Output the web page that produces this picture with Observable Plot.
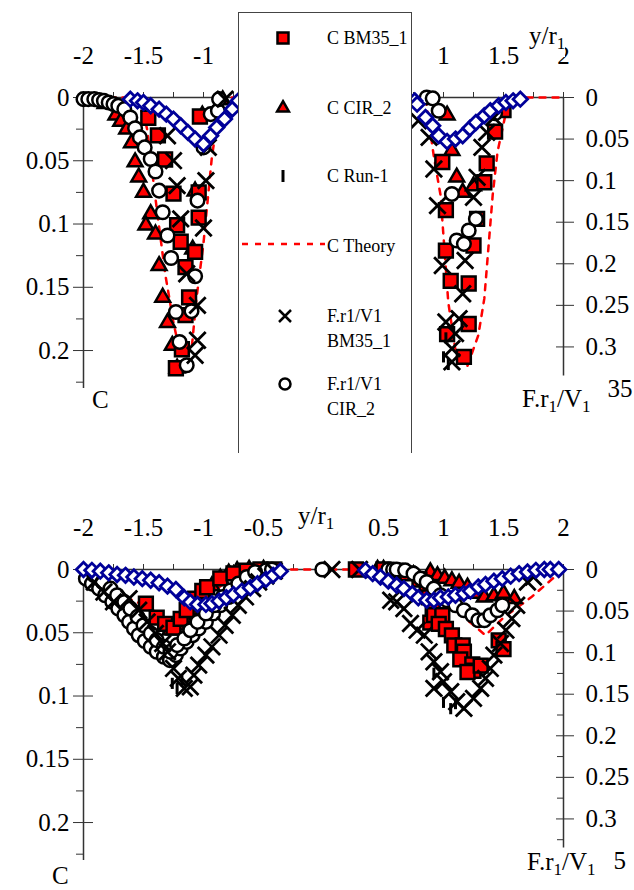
<!DOCTYPE html>
<html><head><meta charset="utf-8">
<script src="https://cdn.jsdelivr.net/npm/d3@7"></script>
<script src="https://cdn.jsdelivr.net/npm/@observablehq/plot@0.6"></script>
<style>
body{margin:0;background:#fff;}
#wrap{position:relative;width:634px;height:890px;font-family:"Liberation Serif","Times New Roman",serif;color:#000;overflow:hidden;}
#wrap svg{display:block;}
#wrap svg, #wrap svg text{font-family:"Liberation Serif","Times New Roman",serif !important;}
.lab{position:absolute;font-size:25px;line-height:25px;background:#fff;white-space:nowrap;}
.lab sub{font-size:17px;line-height:0;vertical-align:-5px;}
#legend{position:absolute;left:238px;top:12px;width:172px;height:440px;border:1.5px solid #444;border-bottom:none;background:#fff;}
#legend .t{position:absolute;left:88px;font-size:18px;line-height:20px;white-space:nowrap;}
#legend svg{position:absolute;overflow:visible;}
</style></head>
<body><div id="wrap"></div>
<script>
// ---------- axis ticks ----------
const xMajorTop = [-2,-1.5,-1,1,1.5,2];            // -0.5, 0, 0.5 lie under the legend box
const xMajorBottom = [-2,-1.5,-1,-0.5,0.5,1,1.5,2]; // 0 is replaced by the y/r1 title
const xMinor = [-1.75,-1.25,-0.75,-0.25,0.25,0.75,1.25,1.75];
const cMajor = [0,0.05,0.1,0.15,0.2];
const cMinor = [0.025,0.075,0.125,0.175,0.225];
const fMajor = [0,0.05,0.1,0.15,0.2,0.25,0.3];
const fMinor = [0.025,0.075,0.125,0.175,0.225,0.275,0.325];
const fLast = 0.35;            // last right-axis label, mostly hidden behind the axis title
const fLastTextTop = "35", fLastTextBottom = "5";
const C_MAX = 0.23, F_MAX = 0.35, F_AXIS_END = 0.335;

// ---------- TOP PANEL DATA : [y/r1, value] ----------
// C (left axis)
const topSquares = [[-1.46,0.016],[-1.38,0.030],[-1.32,0.049],[-1.25,0.076],[-1.22,0.101],[-1.19,0.114],[-1.07,0.122],[-1.04,0.095],[-1.04,0.075],[-1.15,0.134],[-1.12,0.158],[-1.15,0.172],[-1.18,0.199],[-1.23,0.214],[-1.03,0.015],
  [0.99,0.051],[1.02,0.089],[1.02,0.121],[1.06,0.145],[1.21,0.147],[1.25,0.117],[1.28,0.096],[1.36,0.052],[1.34,0.067],[1.43,0.027],[1.50,0.010],[1.21,0.179],[1.17,0.205],[1.03,0.187]];
const topTriangles = [[-1.82,0.005],[-1.73,0.014],[-1.69,0.019],[-1.64,0.025],[-1.60,0.036],[-1.57,0.051],[-1.54,0.063],[-1.50,0.075],[-1.44,0.092],[-1.48,0.101],[-1.40,0.108],[-1.37,0.133],[-1.34,0.158],[-1.30,0.178],[-1.26,0.196],[-1.22,0.214],[-1.09,0.120],[-1.07,0.074],[-1.01,0.014],[-0.84,0.002],
  [1.03,0.014],[1.07,0.042],[1.11,0.063],[1.16,0.075],[1.25,0.070]];
const topRun1 = [[1.02,0.19],[1.0,0.205],[1.04,0.211]];
const topTheory = [[-2,0],[-1.6,0],[-1.5,0.013],[-1.47,0.025],[-1.4,0.08],[-1.32,0.139],[-1.25,0.178],[-1.2,0.2],[-1.1,0.2],[-1.06,0.16],[-1.0,0.115],[-0.93,0.047],[-0.88,0.015],[-0.85,0],
  [0.85,0],[0.92,0.047],[0.975,0.077],[1.04,0.162],[1.1,0.2],[1.2,0.212],[1.29,0.188],[1.34,0.159],[1.41,0.077],[1.45,0.043],[1.52,0.012],[1.6,0],[2,0]];
// F.r1/V1 (right axis)
const topCircles = [[-2.0,0.002],[-1.96,0.002],[-1.91,0.002],[-1.87,0.003],[-1.83,0.004],[-1.79,0.006],[-1.75,0.008],[-1.71,0.010],[-1.66,0.014],[-1.61,0.024],[-1.57,0.037],[-1.53,0.048],[-1.49,0.060],[-1.44,0.074],[-1.40,0.089],[-1.37,0.112],[-1.34,0.138],[-1.30,0.166],[-1.27,0.193],[-1.23,0.258],[-1.10,0.257],[-1.20,0.294],[-1.14,0.322],[-1.07,0.215],[-1.05,0.124],[-1.00,0.060],[-0.94,0.020],[-0.88,0.016],[-0.87,0.002],
  [0.86,0],[0.91,0.001],[0.96,0.016],[1.43,0.019],[1.07,0.116],[1.11,0.172],[1.17,0.176],[1.21,0.160],[1.27,0.146]];
const topCrosses = [[-1.30,0.046],[-1.25,0.076],[-1.22,0.106],[-1.19,0.146],[-1.14,0.212],[-1.05,0.250],[-1.05,0.292],[-1.07,0.310],[-0.98,0.100],[-1.00,0.157],[-0.96,0.060],[-0.82,0.002],
  [0.79,0.028],[0.88,0.048],[0.92,0.086],[0.95,0.130],[0.99,0.202],[1.02,0.270],[1.13,0.266],[1.10,0.284],[1.07,0.302],[1.07,0.318],[1.16,0.236],[1.18,0.196],[1.25,0.120],[1.28,0.096],[1.32,0.060],[1.36,0.042],[1.42,0.024]];
const topDiamonds = [[-1.61,0.002],[-1.55,0.004],[-1.50,0.006],[-1.44,0.010],[-1.37,0.014],[-1.31,0.020],[-1.25,0.026],[-1.19,0.034],[-1.13,0.042],[-1.07,0.050],[-1.00,0.056],[-0.94,0.046],[-0.89,0.036],[-0.825,0.026],[-0.76,0.014],[-0.71,0.004],
  [0.76,0.004],[0.78,0.008],[0.85,0.024],[0.91,0.034],[0.96,0.046],[1.03,0.053],[1.10,0.050],[1.16,0.046],[1.22,0.037],[1.27,0.030],[1.34,0.022],[1.39,0.016],[1.46,0.010],[1.52,0.006],[1.58,0.004],[1.64,0.002]];

// ---------- BOTTOM PANEL DATA ----------
const botSquares = [[-1.48,0.027],[-1.39,0.038],[-1.32,0.043],[-1.25,0.046],[-1.19,0.039],[-1.14,0.032],[-1.07,0.023],[-1.01,0.017],[-0.97,0.014],[-0.86,0.007],[-0.75,0.003],[-0.64,0.001],[-0.525,0],[-0.41,0],
  [0.27,0],[0.5,0],[0.6,0.001],[0.7,0.003],[0.8,0.008],[0.86,0.015],[0.88,0.022],
  [0.91,0.030],[0.89,0.042],[0.92,0.036],[0.99,0.036],[0.96,0.043],[1.02,0.047],[1.07,0.052],[1.09,0.060],[1.16,0.060],[1.17,0.065],[1.14,0.071],[1.24,0.075],[1.25,0.080],[1.20,0.081],[1.31,0.076],[1.46,0.056],[1.50,0.063]];
const botTriangles = [[-1.28,0.048],[-1.22,0.044],[-1.16,0.038],[-1.11,0.032],[-1.05,0.026],[-1.0,0.019],[-0.93,0.013],[-0.86,0.007],[-0.79,0.003],[-0.72,0.001],[-0.62,0],[-0.5,0],
  [0.45,0],[0.5,0],[0.89,0.002],[0.95,0.005],[1.01,0.007],[1.07,0.009],[1.13,0.011],[1.20,0.014],[1.28,0.019],[1.34,0.022],[1.42,0.021],[1.50,0.019],[1.59,0.023]];
const botRun1 = [[-1.26,0.090],[-1.22,0.094],[-1.18,0.088],[0.92,0.082],[1.0,0.105],[1.06,0.110],[1.1,0.106]];
const botTheory = [[-2,0],[-1.85,0.014],[-1.45,0.03],[-1.25,0.045],[-1.1,0.04],[-0.95,0.02],[-0.75,0.005],[-0.5,0],
  [0.45,0],[0.7,0.004],[1.0,0.02],[1.2,0.04],[1.35,0.052],[1.5,0.038],[1.73,0.022],[1.9,0.008],[2,0]];
const botCircles = [[-1.98,0.011],[-1.93,0.017],[-1.87,0.023],[-1.82,0.031],[-1.76,0.039],[-1.71,0.047],[-1.66,0.055],[-1.62,0.063],[-1.58,0.071],[-1.54,0.079],[-1.49,0.086],[-1.44,0.093],[-1.39,0.099],[-1.33,0.105],[-1.28,0.109],
  [-1.23,0.103],[-1.19,0.095],[-1.14,0.087],[-1.09,0.079],[-1.04,0.071],[-0.98,0.063],[-0.92,0.053],[-0.86,0.043],[-0.79,0.033],[-0.72,0.025],[-0.65,0.017],[-0.59,0.011],[-0.54,0.005],[-0.48,0.001],[-0.43,0],
  [-1.91,0.007],[-1.84,0.015],[-1.775,0.023],[-1.72,0.031],[-1.66,0.039],[-1.61,0.047],[-1.55,0.057],[-1.50,0.067],[-1.44,0.077],[-1.39,0.085],[-1.33,0.093],[-1.275,0.099],
  [-1.22,0.091],[-1.16,0.083],[-1.11,0.073],[-1.05,0.063],[-0.98,0.053],[-0.91,0.043],[-0.84,0.033],[-0.775,0.025],[-0.71,0.017],[-0.64,0.009],[-0.57,0.003],
  [-0.01,0],[0.54,0],[0.58,0],[0.61,0],[0.68,0.001],[0.75,0.005],[0.81,0.011],[0.86,0.015],[0.92,0.023],[0.975,0.031],[1.03,0.037],[1.10,0.043],[1.17,0.049],[1.24,0.055],[1.29,0.061],[1.34,0.061],[1.39,0.055],[1.45,0.049],[1.49,0.043]];
const botCrosses = [[-1.91,0.015],[-1.83,0.027],[-1.75,0.039],[-1.62,0.035],[-1.54,0.049],[-1.47,0.063],[-1.40,0.077],[-1.34,0.089],[-1.30,0.099],[-1.25,0.119],[-1.21,0.131],[-1.16,0.143],[-1.11,0.141],[-1.08,0.127],[-1.04,0.115],[-0.98,0.103],[-0.93,0.093],[-0.87,0.079],[-0.82,0.067],[-0.76,0.055],[-0.71,0.043],[-0.65,0.033],[-0.59,0.023],[-0.54,0.015],[-0.48,0.008],[-0.41,0.002],
  [0.07,0],[0.30,0],[0.56,0.037],[0.61,0.039],[0.67,0.047],[0.725,0.065],[0.78,0.073],[0.84,0.079],[0.88,0.099],[0.92,0.111],[0.975,0.123],[1.0,0.135],[0.92,0.143],[1.06,0.147],[1.11,0.159],[1.17,0.167],[1.25,0.155],[1.31,0.143],[1.35,0.131],[1.39,0.119],[1.42,0.103],[1.475,0.089],[1.52,0.073],[1.57,0.059],[1.61,0.043],[1.70,0.015],[1.75,0.009]];
const botDiamonds = [[-2.0,0],[-1.93,0.001],[-1.86,0.002],[-1.79,0.004],[-1.72,0.006],[-1.65,0.007],[-1.58,0.009],[-1.51,0.011],[-1.44,0.013],[-1.37,0.016],[-1.30,0.020],[-1.23,0.024],[-1.16,0.034],[-1.11,0.039],[-1.05,0.042],[-0.98,0.042],[-0.93,0.041],[-0.87,0.038],[-0.81,0.034],[-0.75,0.030],[-0.68,0.026],[-0.61,0.022],[-0.55,0.017],[-0.48,0.012],[-0.42,0.007],[-0.36,0.002],
  [0.35,0.001],[0.41,0.005],[0.475,0.009],[0.54,0.014],[0.61,0.019],[0.67,0.023],[0.74,0.029],[0.79,0.034],[0.86,0.037],[0.92,0.037],[0.975,0.034],[1.04,0.033],[1.10,0.031],[1.17,0.029],[1.225,0.026],[1.29,0.021],[1.35,0.018],[1.42,0.014],[1.49,0.011],[1.56,0.008],[1.63,0.005],[1.70,0.003],[1.77,0.001],[1.84,0],[1.89,0],[1.96,0]];

// ---------- drawing ----------
const K = C_MAX / F_MAX;            // right-axis (F) values expressed in the left (C) scale
const fmt = d => String(+(+d).toFixed(3));
const FONT = "Liberation Serif, Times New Roman, serif";
const FS = 25;
const AX = "#333";
const barSymbol = {draw(ctx, size){ const h = Math.sqrt(size) * 0.9; ctx.moveTo(0, -h/2); ctx.lineTo(0, h/2); }};

function panel(o){
  const C = {x: d => d[0], y: d => d[1]};
  const F = {x: d => d[0], y: d => d[1] * K};
  return Plot.plot({
    width: 634, height: 445,
    marginLeft: 83, marginRight: 71, marginTop: o.marginTop, marginBottom: o.marginBottom,
    style: {fontFamily: FONT, fontSize: FS + "px", color: "#000", background: "transparent", overflow: "visible"},
    x: {domain: [-2, 2], axis: null},
    y: {domain: [0, C_MAX], reverse: true, axis: null},
    marks: [
      Plot.ruleY([0], {x1: -2, x2: 2, stroke: AX, strokeWidth: 1.5}),
      Plot.ruleX([-2], {y1: 0, y2: C_MAX, stroke: AX, strokeWidth: 1.5}),
      Plot.ruleX([2], {y1: 0, y2: F_AXIS_END * K, stroke: AX, strokeWidth: 1.5}),
      Plot.axisX(o.xLabels, {anchor: "top", tickSize: 6, tickPadding: 28, tickFormat: fmt, fontSize: FS, fontFamily: FONT, label: null, stroke: AX}),
      Plot.axisX(xMinor, {anchor: "top", tickSize: 6, tickFormat: () => "", label: null, stroke: AX}),
      Plot.axisY(cMajor, {anchor: "left", tickSize: 10, tickPadding: 4, tickFormat: fmt, fontSize: FS, fontFamily: FONT, label: null, stroke: AX}),
      Plot.axisY(cMajor, {anchor: "left", tickSize: -10, tickFormat: () => "", label: null, stroke: AX}),
      Plot.axisY(cMinor, {anchor: "left", tickSize: 7, tickFormat: () => "", label: null, stroke: AX}),
      Plot.axisY(fMajor.map(f => f * K), {anchor: "right", tickSize: 10, tickPadding: 12, tickFormat: d => fmt(d / K), fontSize: FS, fontFamily: FONT, label: null, stroke: AX}),
      Plot.axisY(fMajor.map(f => f * K), {anchor: "right", tickSize: -8, tickFormat: () => "", label: null, stroke: AX}),
      Plot.axisY([fLast * K], {anchor: "right", tickSize: 0, tickPadding: o.lastPad, tickFormat: () => o.lastText, fontSize: FS, fontFamily: FONT, label: null}),
      ...(o.rightMinor ? [Plot.axisY(fMinor.map(f => f * K), {anchor: "right", tickSize: -7, tickFormat: () => "", label: null, stroke: AX})] : []),
      Plot.line(o.theory, {...C, stroke: "#ff0000", strokeWidth: 2.5, strokeDasharray: "6,7"}),
      Plot.dot(o.triangles, {...C, symbol: "triangle", r: 5.5, fill: "#ff0000", stroke: "#000", strokeWidth: 2.5}),
      Plot.dot(o.squares, {...C, symbol: "square", r: 7.8, fill: "#ff0000", stroke: "#000", strokeWidth: 2.5}),
      Plot.dot(o.run1, {...C, symbol: barSymbol, r: 7, fill: "none", stroke: "#000", strokeWidth: 3}),
      Plot.dot(o.circles, {...F, symbol: "circle", r: 6.8, fill: "#fff", stroke: "#000", strokeWidth: 2.5}),
      Plot.dot(o.crosses, {...F, symbol: "times", r: 7.5, fill: "none", stroke: "#000", strokeWidth: 2.8}),
      Plot.dot(o.diamonds, {...F, symbol: "diamond2", r: 6.5, fill: "#fff", stroke: "#000099", strokeWidth: 2.8})
    ]
  });
}

const wrap = document.getElementById("wrap");
wrap.appendChild(panel({marginTop: 97, marginBottom: 57, xLabels: xMajorTop, rightMinor: false, lastText: fLastTextTop, lastPad: 44,
  squares: topSquares, triangles: topTriangles, run1: topRun1, theory: topTheory,
  circles: topCircles, crosses: topCrosses, diamonds: topDiamonds}));
wrap.appendChild(panel({marginTop: 124, marginBottom: 30, xLabels: xMajorBottom, rightMinor: true, lastText: fLastTextBottom, lastPad: 50,
  squares: botSquares, triangles: botTriangles, run1: botRun1, theory: botTheory,
  circles: botCircles, crosses: botCrosses, diamonds: botDiamonds}));

// axis titles
function label(html, left, top){
  const d = document.createElement("div");
  d.className = "lab"; d.innerHTML = html;
  d.style.left = left + "px"; d.style.top = top + "px";
  wrap.appendChild(d); return d;
}
label("y/r<sub>1</sub>", 529, 23).style.paddingBottom = "9px";
label("F.r<sub>1</sub>/V<sub>1</sub>", 522, 386);
label("C", 92, 387);
label("y/r<sub>1</sub>", 298, 503);
label("F.r<sub>1</sub>/V<sub>1</sub>", 527, 849);
label("C", 52, 863);

// legend
const legendItems = [
  {sym: "square", cy: 25, lines: ["C BM35_1"], ty: [25]},
  {sym: "triangle", cy: 95, lines: ["C CIR_2"], ty: [95]},
  {sym: "bar", cy: 163, lines: ["C Run-1"], ty: [163]},
  {sym: "dash", cy: 231, lines: ["C Theory"], ty: [233]},
  {sym: "times", cy: 303, lines: ["F.r1/V1", "BM35_1"], ty: [303, 328]},
  {sym: "circle", cy: 371, lines: ["F.r1/V1", "CIR_2"], ty: [371, 396]}
];
const leg = document.createElement("div"); leg.id = "legend"; wrap.appendChild(leg);
for (const it of legendItems) {
  const s = d3.select(leg).append("svg").attr("width", 20).attr("height", 20)
    .style("left", "34px").style("top", (it.cy - 10) + "px");
  const g = s.append("g").attr("transform", "translate(10,10)");
  if (it.sym === "square") g.append("rect").attr("x", -5.5).attr("y", -5.5).attr("width", 11).attr("height", 11).attr("fill", "#ff0000").attr("stroke", "#000").attr("stroke-width", 2.5);
  if (it.sym === "triangle") g.append("path").attr("d", d3.symbol(d3.symbolTriangle, 60)()).attr("fill", "#ff0000").attr("stroke", "#000").attr("stroke-width", 2.5);
  if (it.sym === "bar") g.append("line").attr("y1", -6).attr("y2", 6).attr("stroke", "#000").attr("stroke-width", 3);
  if (it.sym === "times") g.attr("transform", "translate(12,10)").append("path").attr("d", "M-6,-6L6,6M6,-6L-6,6").attr("stroke", "#000").attr("stroke-width", 2.5);
  if (it.sym === "circle") g.attr("transform", "translate(12,10)").append("circle").attr("r", 5.5).attr("fill", "#fff").attr("stroke", "#000").attr("stroke-width", 2.5);
  if (it.sym === "dash") { s.attr("width", 84).style("left", "2px"); g.attr("transform", "translate(0,10)").append("line").attr("x1", 1).attr("x2", 84).attr("stroke", "#ff0000").attr("stroke-width", 2.5).attr("stroke-dasharray", "6,7"); }
  it.lines.forEach((t, i) => {
    const d = document.createElement("div"); d.className = "t"; d.textContent = t;
    d.style.top = (it.ty[i] - 10) + "px"; leg.appendChild(d);
  });
}
</script></body></html>
